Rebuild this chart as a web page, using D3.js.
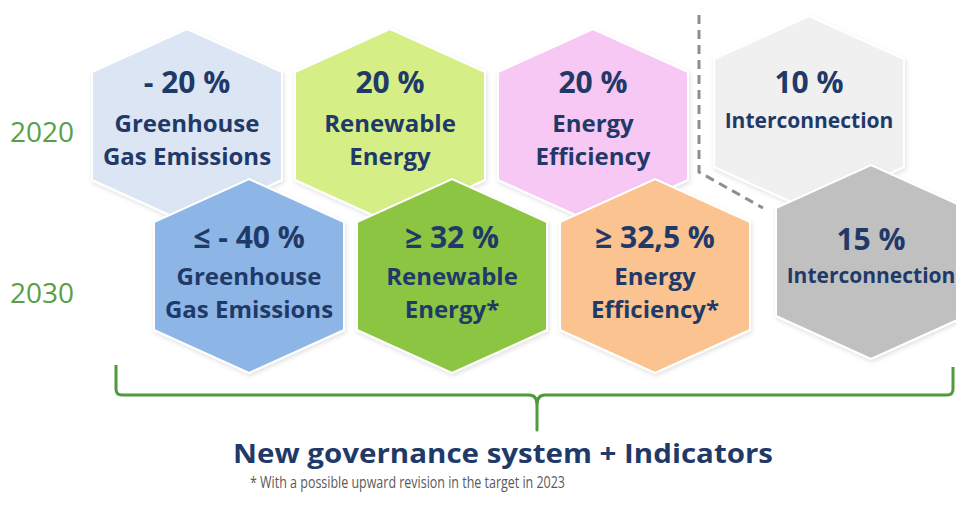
<!DOCTYPE html>
<html>
<head>
<meta charset="utf-8">
<script src="https://cdn.jsdelivr.net/npm/d3@7"></script>
<style>
  html, body { margin: 0; padding: 0; background: #ffffff; }
  svg { display: block; }
</style>
</head>
<body>
<svg id="chart" width="956" height="506"></svg>
<script>
// ---- data ----
const years = ["2020", "2030"];
const categories = ["Greenhouse Gas Emissions", "Renewable Energy", "Energy Efficiency", "Interconnection"];
const targets2020 = ["- 20 %", "20 %", "20 %", "10 %"];
const targets2030 = ["≤ - 40 %", "≥ 32 %", "≥ 32,5 %", "15 %"];
const labels2020 = [["Greenhouse", "Gas Emissions"], ["Renewable", "Energy"], ["Energy", "Efficiency"], ["Interconnection"]];
const labels2030 = [["Greenhouse", "Gas Emissions"], ["Renewable", "Energy*"], ["Energy", "Efficiency*"], ["Interconnection"]];
const colors2020 = ["#dbe5f3", "#d5ee86", "#f8c8f4", "#f0f0f0"];
const colors2030 = ["#8db5e6", "#8cc543", "#fac38f", "#c0c0c0"];
const title = "New governance system + Indicators";
const footnote = "* With a possible upward revision in the target in 2023";

// ---- layout ----
const svg = d3.select("#chart");
const textColor = "#1f3a68";
const font = "'Open Sans', 'DejaVu Sans', sans-serif";

const x = d3.scalePoint().domain(categories).range([187, 796]);
const y = d3.scalePoint().domain(years).range([126, 276]);
const rowShift = d3.scaleOrdinal().domain(years).range([0, 62]);
const sepGap = 13; // extra gap for the separated Interconnection column
const sepLift = { "2020": -13, "2030": -14 };

const W = 95, H = 97, S = 54;
const hexPath = (cx, cy) => d3.line()([
  [cx, cy - H], [cx + W, cy - S], [cx + W, cy + S],
  [cx, cy + H], [cx - W, cy + S], [cx - W, cy - S]
]) + "Z";

const defs = svg.append("defs");
const f = defs.append("filter").attr("id", "sh").attr("x", "-10%").attr("y", "-10%").attr("width", "130%").attr("height", "130%");
f.append("feDropShadow").attr("dx", 1).attr("dy", 2).attr("stdDeviation", 2)
  .attr("flood-color", "#000").attr("flood-opacity", 0.12);

const rows = years.map((yr, ri) => categories.map((c, i) => {
  const sep = i === categories.length - 1;
  return {
    year: yr, cat: c, i,
    cx: x(c) + rowShift(yr) + (sep ? sepGap : 0),
    cy: y(yr) + (sep ? sepLift[yr] : 0),
    target: (ri === 0 ? targets2020 : targets2030)[i],
    lines: (ri === 0 ? labels2020 : labels2030)[i],
    color: (ri === 0 ? colors2020 : colors2030)[i]
  };
}));

// dashed separator
svg.append("path")
  .attr("d", "M699,15 L699,172 L763,208")
  .attr("fill", "none").attr("stroke", "#8e8e8e").attr("stroke-width", 3)
  .attr("stroke-dasharray", "9,6");

rows.forEach(row => {
  const g = svg.append("g");
  const hex = g.selectAll("g.hex").data(row).join("g").attr("class", "hex");
  hex.append("path")
    .attr("d", d => hexPath(d.cx, d.cy))
    .attr("fill", d => d.color)
    .attr("stroke", "#ffffff").attr("stroke-width", 2)
    .attr("filter", "url(#sh)");

  hex.append("text")
    .attr("x", d => d.cx)
    .attr("y", d => d.cy + (d.lines.length === 1 ? (d.year === "2020" ? -20 : -12) : (d.year === "2020" ? -33 : -28)))
    .attr("text-anchor", "middle")
    .attr("font-family", font).attr("font-weight", 700).attr("font-size", 30)
    .attr("fill", textColor)
    .text(d => d.target);

  hex.each(function(d) {
    const sel = d3.select(this);
    d.lines.forEach((ln, k) => {
      const single = d.lines.length === 1;
      const base = single ? (d.year === "2020" ? 15 : 21) : (d.year === "2020" ? 6 : 9);
      sel.append("text")
        .attr("x", d.cx)
        .attr("y", d.cy + base + k * 33)
        .attr("text-anchor", "middle")
        .attr("font-family", font).attr("font-weight", 700)
        .attr("font-size", single ? 21 : 24)
        .attr("fill", textColor)
        .text(ln);
    });
  });
});

// year labels
svg.selectAll("text.year").data(years).join("text")
  .attr("class", "year")
  .attr("x", 10)
  .attr("y", d => y(d) + (d === "2020" ? 16 : 27))
  .attr("font-family", font).attr("font-size", 28)
  .attr("fill", "#57a046")
  .text(d => d);

// bracket
svg.append("path")
  .attr("d", "M116,365 L116,389 Q116,395 122,395 L529,395 Q537,395 537,405 L537,430 L537,405 Q537,395 545,395 L947,395 Q953,395 953,389 L953,367")
  .attr("fill", "none").attr("stroke", "#4f9a3d").attr("stroke-width", 3)
  .attr("stroke-linejoin", "round");

// title & footnote
svg.append("text")
  .attr("x", 503).attr("y", 463)
  .attr("text-anchor", "middle")
  .attr("font-family", font).attr("font-weight", 700).attr("font-size", 27)
  .attr("fill", textColor)
  .attr("textLength", 540).attr("lengthAdjust", "spacingAndGlyphs")
  .text(title);

svg.append("text")
  .attr("x", 250).attr("y", 488)
  .attr("font-family", font).attr("font-size", 17)
  .attr("fill", "#5a5a5a")
  .attr("textLength", 315).attr("lengthAdjust", "spacingAndGlyphs")
  .text(footnote);
</script>
</body>
</html>
